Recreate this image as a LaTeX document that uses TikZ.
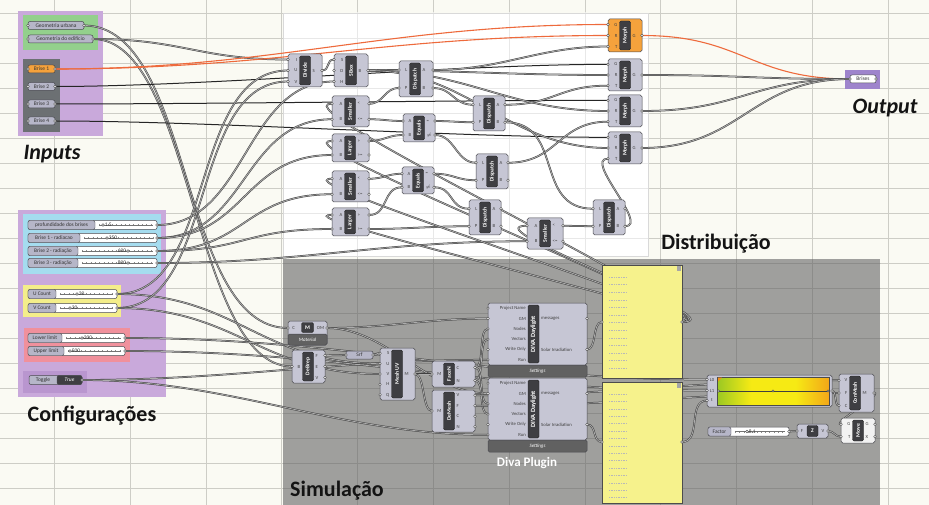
\documentclass[tikz,border=0pt]{standalone}
\usepackage{fontspec}
\setmainfont{Carlito}
\usetikzlibrary{calc}
\pgfdeclarelayer{bg}
\pgfdeclarelayer{wires}
\pgfsetlayers{bg,wires,main}
\definecolor{bgc}{HTML}{FAFAF3}
\definecolor{gridc}{HTML}{CDCDC6}
\definecolor{simc}{HTML}{9F9F9D}
\definecolor{simgrid}{HTML}{8C8C8A}
\definecolor{purp}{HTML}{C9A9DB}
\definecolor{purpdk}{HTML}{B996CF}
\definecolor{purpout}{HTML}{9E84CC}
\definecolor{grn}{HTML}{93D08C}
\definecolor{dkgrp}{HTML}{6C7073}
\definecolor{cyn}{HTML}{A5DCEF}
\definecolor{ylw}{HTML}{F4EE8A}
\definecolor{rdg}{HTML}{F0909C}
\definecolor{ghgray}{HTML}{C6C6D4}
\definecolor{ghedge}{HTML}{4A4A50}
\definecolor{ghdark}{HTML}{3E3E42}
\definecolor{parfill}{HTML}{B6B6C8}
\definecolor{ghorange}{HTML}{F5A23C}
\definecolor{panely}{HTML}{F6F28C}
\definecolor{wireo}{HTML}{EE6A3C}
\definecolor{ggreen}{HTML}{0F9638}
\definecolor{gyg}{HTML}{7DBE28}
\definecolor{gyellow}{HTML}{F6EA14}
\definecolor{gorange}{HTML}{F2901A}
\definecolor{gred}{HTML}{E01E1C}
\pgfdeclarehorizontalshading{ghgrad}{100bp}{color(0bp)=(ggreen); color(20bp)=(gyg); color(40bp)=(gyellow); color(60bp)=(gyellow); color(80bp)=(gorange); color(100bp)=(gred)}

\tikzset{
  ghbodyfill/.style={fill=ghgray},
  ghbody/.style={ghbodyfill,draw=ghedge,line width=0.5pt,rounded corners=1.8pt},
  ghpanel/.style={fill=ghdark,draw=black!85,line width=0.4pt,rounded corners=1.5pt},
  ghlabel/.style={text=white,font=\fontsize{5.6}{6}\selectfont\bfseries,inner sep=0pt},
  plab/.style={font=\fontsize{4.7}{5}\selectfont,text=black!75,inner sep=0pt},
  port/.style={fill=white,draw=black!75,line width=0.35pt},
  pbody/.style={draw=ghedge,line width=0.5pt,rounded corners=2pt},
  pl/.style={font=\fontsize{5.5}{6}\selectfont,text=black!80,inner sep=0pt},
  sldbody/.style={fill=white,draw=ghedge,line width=0.5pt,rounded corners=2pt},
  sldlab/.style={fill=parfill,draw=ghedge,line width=0.4pt,rounded corners=2pt},
  slab/.style={font=\fontsize{5.4}{6}\selectfont,text=black!80,inner sep=0pt},
  sval/.style={font=\fontsize{5.4}{6}\selectfont,text=black!80,inner sep=0pt},
  svalpos/.style={anchor=west,xshift=1.6pt},
  knob/.style={fill=white,draw=black!80,line width=0.4pt},
  ghstrip/.style={fill=black!62,draw=ghedge,line width=0.5pt,rounded corners=1.5pt},
  striptext/.style={font=\fontsize{5}{6}\selectfont\itshape,text=white,inner sep=0pt},
  wire/.style={draw=black!75,line width=0.5pt,double=black!32,double distance=0.8pt},
  dwire/.style={draw=black!85,line width=1pt},
  owire/.style={draw=wireo,line width=1.1pt},
  big/.style={font=\fontsize{22}{26}\selectfont\bfseries,text=black!92,inner sep=0pt},
  bigit/.style={font=\fontsize{22}{26}\selectfont\bfseries\itshape,text=black!92,inner sep=0pt},
  panelsty/.style={fill=panely,draw=black!70,line width=0.5pt},
}

% component: id, x, y, w, h, label, panel offset, inputs, outputs
\newcommand\ghc[9]{%
  \path[ghbody] (#2,#3) rectangle ++(#4,#5);
  \path[ghpanel] ({#2+#7-5.5},{#3+2}) rectangle ({#2+#7+5.5},{#3+#5-2});
  \node[ghlabel,rotate=90] at ({#2+#7},{#3+#5/2}) {#6};
  \foreach \lbl [count=\i] in {#8} {\xdef\ghn{\i}}
  \foreach \lbl [count=\i] in {#8} {
    \pgfmathsetmacro\yy{#3+#5*(\i-0.5)/\ghn}
    \coordinate (#1-i\i) at (#2,\yy);
    \node[plab,anchor=east] at ({#2+#7-7.5},\yy) {\lbl};
    \path[port] (#1-i\i) circle (1.3pt);
  }
  \foreach \lbl [count=\i] in {#9} {\xdef\ghn{\i}}
  \foreach \lbl [count=\i] in {#9} {
    \pgfmathsetmacro\yy{#3+#5*(\i-0.5)/\ghn}
    \coordinate (#1-o\i) at ({#2+#4},\yy);
    \node[plab,anchor=west] at ({#2+#7+7.5},\yy) {\lbl};
    \path[port] (#1-o\i) circle (1.3pt);
  }
}
% param: id, x1, yc, x2, label, fill
\newcommand\ghparam[6]{%
  \path[pbody,fill=#6] (#2,{#3-4}) rectangle (#4,{#3+4});
  \node[pl] at ({(#2+#4)/2},#3) {#5};
  \coordinate (#1-i) at (#2,#3);
  \coordinate (#1-o) at (#4,#3);
  \path[port] (#1-i) circle (1.3pt);
  \path[port] (#1-o) circle (1.3pt);
}
% slider: id, x1, yc, x2, xsplit, label, knob x, value
\newcommand\ghslider[8]{%
  \path[sldbody] (#2,{#3-4.5}) rectangle (#4,{#3+4.5});
  \path[sldlab] (#2,{#3-4.5}) rectangle (#5,{#3+4.5});
  \node[slab] at ({(#2+#5)/2},#3) {#6};
  \draw[black!45,line width=2pt,dash pattern=on 0.3pt off 4pt] ({#5+4},#3) -- ({#4-4},#3);
  \draw[black!55,line width=0.3pt] ({#5+4},#3) -- ({#4-4},#3);
  \path[knob] (#7,#3) circle (1.3pt);
  \node[sval,svalpos] at (#7,#3) {#8};
  \coordinate (#1-o) at (#4,#3);
  \path[port] (#1-o) circle (1.3pt);
}
\newcommand\ghw[4][wire]{\draw[#1] (#2) .. controls +(#4,0) and +(-#4,0) .. (#3);}

\begin{document}
\begin{tikzpicture}[x=1pt,y=-1pt]
\useasboundingbox (0,0) rectangle (929,505);

\begin{pgfonlayer}{bg}
  \fill[bgc] (0,0) rectangle (929,505);
  \foreach \k in {0,...,11} \draw[gridc,line width=0.6pt] ({54.2+75.8*\k},0) -- ({54.2+75.8*\k},505);
  \foreach \k in {0,...,19} \draw[gridc,line width=0.6pt] (0,{13+25*\k}) -- (929,{13+25*\k});
  % Distribution area
  \fill[white] (283,13) rectangle (648,256);
  \begin{scope}
    \clip (283,13) rectangle (648,256);
    \foreach \k in {0,...,11} \draw[black!9,line width=0.5pt] ({54.2+75.8*\k},0) -- ({54.2+75.8*\k},505);
    \foreach \k in {0,...,19} \draw[black!9,line width=0.5pt] (0,{13+25*\k}) -- (929,{13+25*\k});
  \end{scope}
  \draw[black!15,line width=0.5pt] (283,13) rectangle (648,256);
  % Simulation area
  \fill[simc] (283,259) rectangle (880,505);
  \begin{scope}
    \clip (283,259) rectangle (880,505);
    \foreach \k in {0,...,11} \draw[simgrid,line width=0.6pt] ({54.2+75.8*\k},0) -- ({54.2+75.8*\k},505);
    \foreach \k in {0,...,19} \draw[simgrid,line width=0.6pt] (0,{13+25*\k}) -- (929,{13+25*\k});
  \end{scope}
  % groups
  \fill[purp] (18,11) rectangle (103,136);
  \fill[grn] (23,15) rectangle (98,50);
  \fill[dkgrp] (23,59) rectangle (60,132);
  \fill[purp] (18,210) rectangle (166,397);
  \fill[cyn] (23,214) rectangle (161,274);
  \fill[ylw] (23,285) rectangle (121,317);
  \fill[rdg] (24,328) rectangle (130,362);
  \fill[purpdk] (23,371) rectangle (87,393);
  \fill[purpout] (845,70) rectangle (880,89);
\end{pgfonlayer}

% ---------- big labels
\node[bigit] at (52,154) {Inputs};
\node[big] at (92,416) {Configurações};
\node[big] at (716,244) {Distribuição};
\node[bigit] at (885,108) {Output};
\node[big] at (337,491) {Simulação};
\node[font=\fontsize{13}{15}\selectfont\bfseries,text=white,inner sep=0pt] at (527,463) {Diva Plugin};

% ---------- inputs
\ghparam{GU}{28}{25.5}{84}{Geometria urbana}{parfill}
\ghparam{GE}{28}{39}{93}{Geometria do edifício}{parfill}
\ghparam{B1}{28}{69}{55}{Brise 1}{ghorange}
\ghparam{B2}{28}{86.5}{55}{Brise 2}{parfill}
\ghparam{B3}{28}{104}{55}{Brise 3}{parfill}
\ghparam{B4}{28}{121}{55}{Brise 4}{parfill}
\ghparam{Out}{850}{79}{876}{Brises}{white}

% ---------- configurations
\ghslider{Pr}{28}{225}{157}{95}{profundidade dos brises}{103}{1.5}
\ghslider{R1}{28}{238}{157}{80}{Brise 1 - radiacao}{107}{350}
\begin{scope}[svalpos/.style={anchor=east,xshift=-1.6pt}]
\ghslider{R2}{28}{251}{157}{78}{Brise 2 - radiação}{128}{600}
\ghslider{R3}{28}{263}{157}{78}{Brise 3 - radiação}{128}{800}
\end{scope}
\ghslider{UC}{28}{294}{117}{56}{U Count}{77}{20}
\ghslider{VC}{28}{308}{117}{56}{V Count}{70}{20}
\ghslider{Lo}{28}{338}{125}{62}{Lower limit}{82}{200}
\ghslider{Up}{28}{351}{125}{64}{Upper limit}{70}{500}
\path[pbody,fill=parfill] (29,375.5) rectangle (82,384.5);
\path[pbody,fill=ghdark] (57,375.5) rectangle (82,384.5);
\node[pl] at (43,380) {Toggle};
\node[pl,text=white,font=\fontsize{5.5}{6}\selectfont\itshape] at (69.5,380) {True};
\coordinate (Tg-o) at (82,380);
\path[port] (Tg-o) circle (1.3pt);

% ---------- distribution
\ghc{Dv}{288}{54}{34}{33}{Divide}{17}{I,U,V}{S}
\ghc{SB}{334}{54}{34}{33}{SBox}{17}{S,D,H}{B}
\ghc{Dp1}{399}{61}{34}{36}{Dispatch}{16}{L,P}{A,B}
\ghc{Sm1}{332}{96}{37}{31}{Smaller}{18}{A,B}{<,<=}
\ghc{Eq1}{403}{114}{32}{28}{Equals}{16}{A,B}{=,$\neq$}
\ghc{Dp2}{473}{96}{32}{35}{Dispatch}{16}{L,P}{A,B}
\ghc{Lg1}{332}{134}{37}{28}{Larger}{18}{A,B}{>,>=}
\ghc{Sm2}{332}{171}{37}{31}{Smaller}{18}{A,B}{<,<=}
\ghc{Eq2}{402}{167}{32}{27}{Equals}{16}{A,B}{=,$\neq$}
\ghc{Dp3}{476}{154}{32}{35}{Dispatch}{16}{L,P}{A,B}
\ghc{Lg2}{332}{208}{37}{28}{Larger}{18}{A,B}{>,>=}
\ghc{Dp4}{469}{200}{32}{35}{Dispatch}{16}{L,P}{A,B}
\ghc{Sm3}{527}{218}{36}{31}{Smaller}{18}{A,B}{<,<=}
\ghc{Dp5}{593}{200}{32}{35}{Dispatch}{16}{L,P}{A,B}
\begin{scope}[ghbodyfill/.style={fill=ghorange}]
\ghc{Mo1}{608}{19}{34}{33}{Morph}{17}{G,R,T}{G}
\end{scope}
\ghc{Mo2}{608}{59}{34}{32}{Morph}{17}{G,R,T}{G}
\ghc{Mo3}{608}{95}{34}{32}{Morph}{17}{G,R,T}{G}
\ghc{Mo4}{608}{132}{34}{32}{Morph}{17}{G,R,T}{G}

% ---------- simulation
\path[ghbody] (288,321) rectangle (327,345);
\path[ghstrip] (288,334) rectangle (327,345);
\node[striptext] at (307.5,339.5) {Material};
\path[ghpanel] (301.5,322.5) rectangle (313.5,332.5);
\node[ghlabel] at (307.5,327.5) {M};
\node[plab] at (293.5,328) {C};
\node[plab] at (320.5,328) {OM};
\coordinate (Mat-i1) at (288,328);
\coordinate (Mat-o1) at (327,328);
\path[port] (Mat-i1) circle (1.3pt);
\path[port] (Mat-o1) circle (1.3pt);

\ghc{DB}{292}{350}{33}{33}{DeBrep}{16}{B}{F,E,V}
\ghparam{Srf}{346}{355}{373}{Srf}{parfill}
\ghc{MU}{380}{348}{35}{52}{Mesh UV}{17}{S,U,V,H,Q}{M}
\ghc{FN}{432}{361}{43}{26}{FaceN}{17}{M}{C,N}
\ghc{DM}{432}{390}{43}{42}{DeMesh}{17}{M}{V,F,C,N}
\begin{scope}[ghlabel/.append style={font=\fontsize{6.4}{7}\selectfont\bfseries}]
\ghc{D1}{488}{303}{99}{62}{DIVA Daylight}{45.5}{Project Name,GM,Nodes,Vectors,Write Only,Run}{messages,Solar Irradiation}
\ghc{D2}{488}{378}{99}{62}{DIVA Daylight}{45.5}{Project Name,GM,Nodes,Vectors,Write Only,Run}{messages,Solar Irradiation}
\end{scope}
\path[ghstrip] (488,365) rectangle (587,377);
\node[striptext] at (537.5,371) {Settings};
\path[ghstrip] (488,440) rectangle (587,452);
\node[striptext] at (537.5,446) {Settings};

% panels
\path[panelsty] (602,265) rectangle (682,378);
\path[panelsty] (602,382) rectangle (682,503);
\fill[black!35] (677,266) rectangle (681,271);
\fill[black!35] (677,383) rectangle (681,388);
\foreach \k in {0,...,12} \draw[black!28,line width=0.3pt,dash pattern=on 0.8pt off 0.9pt] (609,{277+7.6*\k}) -- (627,{277+7.6*\k});
\foreach \k in {0,...,14} \draw[black!28,line width=0.3pt,dash pattern=on 0.8pt off 0.9pt] (609,{394+7.4*\k}) -- (627,{394+7.4*\k});
\coordinate (P1-i) at (602,322);
\coordinate (P1-o) at (682,322);
\coordinate (P2-i) at (602,442);
\coordinate (P2-o) at (682,442);
\foreach \p in {P1-i,P1-o,P2-i,P2-o} \path[port] (\p) circle (1.3pt);

% gradient
\path[ghbody] (707,375) rectangle (832,407);
\shade[shading=ghgrad] (717.5,377) rectangle (829,405);
\draw[black!70,line width=0.4pt] (717.5,377) rectangle (829,405);
\fill[gorange] (718,377.5) -- (722,377.5) -- (718,381.5) -- cycle;
\node[plab] at (712,379.5) {L0};
\node[plab] at (712,390.5) {L1};
\node[plab] at (712,400.5) {t};
\draw[black!75,line width=0.35pt] (718.5,391) -- (828,391);
\foreach \xx in {718.5,773,828} \path[knob] (\xx,391) circle (1.2pt);
\coordinate (Gr-i1) at (707,379.5);
\coordinate (Gr-i2) at (707,390.5);
\coordinate (Gr-i3) at (707,400.5);
\coordinate (Gr-o1) at (832,391);
\foreach \p in {Gr-i1,Gr-i2,Gr-i3,Gr-o1} \path[port] (\p) circle (1.3pt);

\ghc{CM}{839}{374}{35}{38}{ConMesh}{16}{V,F,C}{M}
\begin{scope}[ghbodyfill/.style={fill=white!95!black}]
\ghc{Mv}{841}{418}{34}{25}{Move}{17}{G,T}{G,X}
\end{scope}
\ghslider{Fac}{708}{431.5}{789}{731}{Factor}{747}{8.1}
\path[ghbody] (797,424) rectangle (828,438);
\path[ghpanel] (807,425.5) rectangle (818,436.5);
\node[ghlabel] at (812.5,431) {Z};
\node[plab] at (802,431) {F};
\node[plab] at (823,431) {V};
\coordinate (Z-i1) at (797,431);
\coordinate (Z-o1) at (828,431);
\path[port] (Z-i1) circle (1.3pt);
\path[port] (Z-o1) circle (1.3pt);

% ---------- wires
\begin{pgfonlayer}{wires}
\ghw{GU-o}{Mat-i1}{110}
\ghw{GE-o}{DB-i1}{100}
\ghw{GE-o}{Dv-i1}{90}
\ghw[owire]{B1-o}{Mo1-i1}{220}
\ghw[owire]{B1-o}{Mo1-i2}{220}
\ghw[dwire]{B2-o}{Mo2-i1}{150}
\ghw[dwire]{B3-o}{Mo3-i1}{150}
\ghw[dwire]{B4-o}{Mo4-i1}{150}
\ghw{Pr-o}{SB-i3}{90}
\ghw{R1-o}{Sm1-i2}{90}
\ghw{R1-o}{Lg1-i2}{90}
\ghw{R2-o}{Sm2-i2}{90}
\ghw{R2-o}{Lg2-i2}{90}
\ghw{R3-o}{Sm3-i2}{150}
\ghw{UC-o}{Dv-i2}{100}
\ghw{UC-o}{MU-i2}{120}
\ghw{VC-o}{Dv-i3}{100}
\ghw{VC-o}{MU-i3}{120}
\ghw{Lo-o}{Gr-i1}{220}
\ghw{Up-o}{Gr-i2}{220}
\ghw{Tg-o}{D1-i6}{150}
\ghw{Tg-o}{D2-i6}{150}
% distribution
\ghw{Dv-o1}{SB-i1}{8}
\ghw{SB-o1}{Dp1-i1}{12}
\ghw{SB-o1}{Mo2-i2}{100}
\ghw{SB-o1}{Mo3-i2}{100}
\ghw{SB-o1}{Mo4-i2}{100}
\ghw{Dp1-o1}{Mo1-i3}{70}
\ghw{Dp1-o2}{Dp2-i1}{20}
\ghw{Sm1-o1}{Dp1-i2}{15}
\ghw{Sm1-o2}{Eq1-i1}{15}
\ghw{Lg1-o1}{Eq1-i2}{15}
\ghw{Eq1-o1}{Dp2-i2}{15}
\ghw{Eq1-o2}{Dp3-i1}{20}
\ghw{Dp2-o1}{Mo2-i3}{50}
\ghw{Dp2-o2}{Dp5-i1}{60}
\ghw{Dp3-o1}{Mo3-i3}{50}
\ghw{Sm2-o1}{Eq2-i1}{15}
\ghw{Lg2-o1}{Eq2-i2}{20}
\ghw{Eq2-o1}{Dp3-i2}{20}
\ghw{Eq2-o2}{Dp4-i1}{20}
\ghw{Lg2-o2}{Dp4-i2}{40}
\ghw{Sm3-o1}{Dp5-i2}{15}
\ghw{Dp5-o2}{Mo4-i3}{25}
\ghw[owire]{Mo1-o1}{Out-i}{100}
\ghw{Mo2-o1}{Out-i}{100}
\ghw{Mo3-o1}{Out-i}{100}
\ghw{Mo4-o1}{Out-i}{100}
% feedback from panel
\ghw{P1-o}{Sm1-i1}{60}
\ghw{P1-o}{Lg1-i1}{60}
\ghw{P1-o}{Sm2-i1}{60}
\ghw{P1-o}{Lg2-i1}{60}
\ghw{P1-o}{Sm3-i1}{60}
% simulation
\ghw{Mat-o1}{D1-i2}{60}
\ghw{Mat-o1}{D2-i2}{60}
\ghw{DB-o1}{Srf-i}{10}
\ghw{Srf-o}{MU-i1}{6}
\ghw{MU-o1}{FN-i1}{8}
\ghw{MU-o1}{DM-i1}{10}
\ghw{FN-o1}{D1-i3}{10}
\ghw{FN-o2}{D1-i4}{10}
\ghw{FN-o1}{D2-i3}{10}
\ghw{FN-o2}{D2-i4}{10}
\ghw{DM-o1}{CM-i1}{150}
\ghw{DM-o2}{CM-i2}{150}
\ghw{D1-o2}{P1-i}{10}
\ghw{D2-o2}{P2-i}{10}
\ghw{P2-o}{Gr-i3}{20}
\ghw{Gr-o1}{CM-i3}{5}
\ghw{CM-o1}{Mv-i1}{10}
\ghw{Fac-o}{Z-i1}{4}
\ghw{Z-o1}{Mv-i2}{6}
\end{pgfonlayer}
\end{tikzpicture}
\end{document}
